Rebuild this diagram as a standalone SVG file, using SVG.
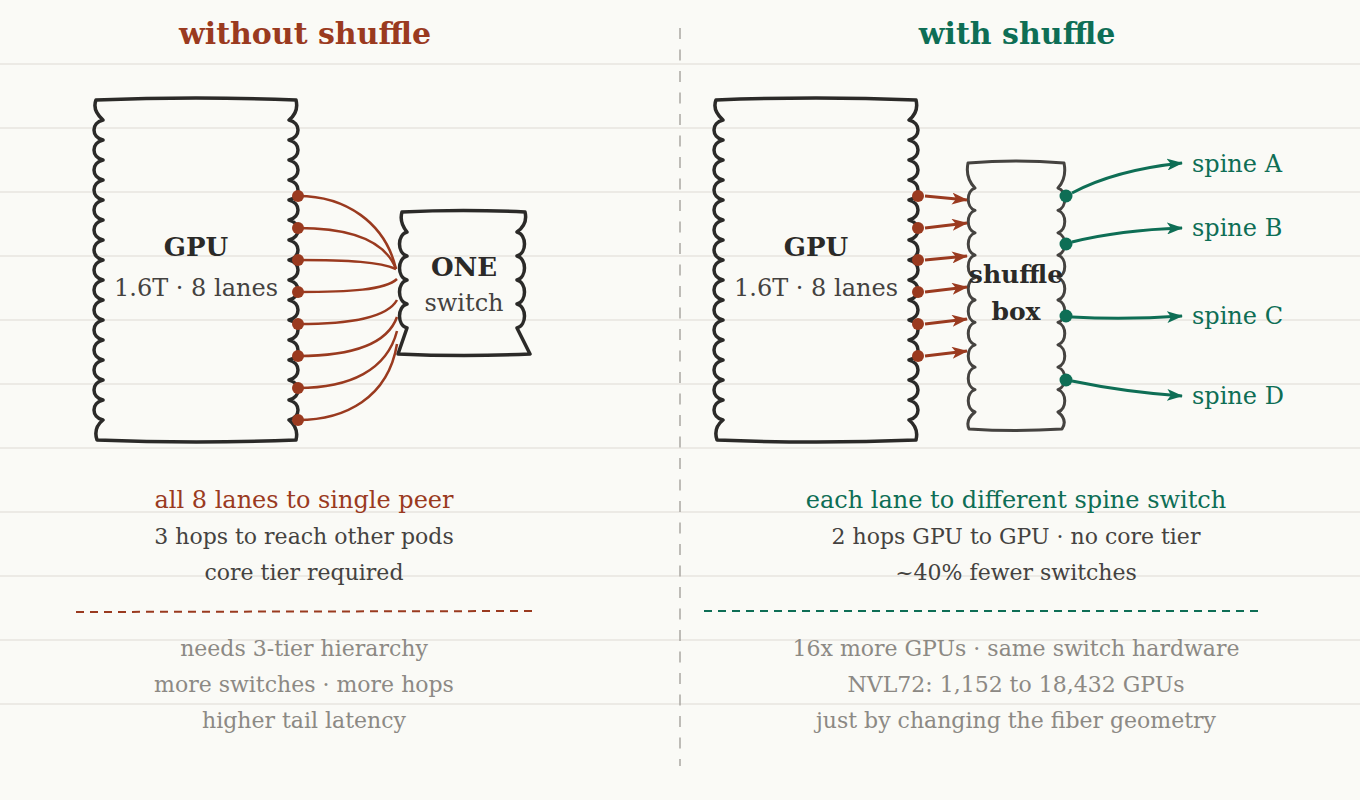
<svg xmlns="http://www.w3.org/2000/svg" width="1360" height="800" viewBox="0 0 1360 800">
<defs>
<style>
.rule{stroke:#e7e5df;stroke-width:1.5}
.box{fill:none;stroke:#2b2a28;stroke-width:3.5;stroke-linejoin:round}
.sbox{fill:none;stroke:#454340;stroke-width:3;stroke-linejoin:round}
.title{font-family:"DejaVu Serif",serif;font-weight:bold;font-size:30px;text-anchor:middle}
.lbl{font-family:"DejaVu Serif",serif;text-anchor:middle;font-size:22px}
.b{font-weight:bold;fill:#2b2a28;font-size:26px}
.bs{font-size:25px}
.big{font-size:24px}
.sub{fill:#444240}
.rust{fill:#9a3a1f}
.green{fill:#0e6e55}
.gray{fill:#8c8984}
.fiber{fill:none;stroke:#9a3a1f;stroke-width:2.5}
.rarrow{fill:none;stroke:#9a3a1f;stroke-width:3;marker-end:url(#ahR)}
.garrow{fill:none;stroke:#0e6e55;stroke-width:3;marker-end:url(#ahG)}
.spine{font-family:"DejaVu Serif",serif;font-size:24px;fill:#0e6e55}
</style>
<marker id="ahR" viewBox="0 0 16 12" refX="15" refY="6" markerWidth="16" markerHeight="12" markerUnits="userSpaceOnUse" orient="auto"><path d="M0,0 L16,6 L0,12 L4,6 Z" fill="#9a3a1f"/></marker>
<marker id="ahG" viewBox="0 0 16 12" refX="15" refY="6" markerWidth="16" markerHeight="12" markerUnits="userSpaceOnUse" orient="auto"><path d="M0,0 L16,6 L0,12 L4,6 Z" fill="#0e6e55"/></marker>
<path id="gpuShape" d="M96,100 Q196,96 296,100 Q299,112 289,120 c12,3 12,17 0,20 c12,3 12,17 0,20 c12,3 12,17 0,20 c12,3 12,17 0,20 c12,3 12,17 0,20 c12,3 12,17 0,20 c12,3 12,17 0,20 c12,3 12,17 0,20 c12,3 12,17 0,20 c12,3 12,17 0,20 c12,3 12,17 0,20 c12,3 12,17 0,20 c12,3 12,17 0,20 c12,3 12,17 0,20 c12,3 12,17 0,20 Q299,428 296,440 Q196,444 97,440 Q93,428 103,420 c-12,-3 -12,-17 0,-20 c-12,-3 -12,-17 0,-20 c-12,-3 -12,-17 0,-20 c-12,-3 -12,-17 0,-20 c-12,-3 -12,-17 0,-20 c-12,-3 -12,-17 0,-20 c-12,-3 -12,-17 0,-20 c-12,-3 -12,-17 0,-20 c-12,-3 -12,-17 0,-20 c-12,-3 -12,-17 0,-20 c-12,-3 -12,-17 0,-20 c-12,-3 -12,-17 0,-20 c-12,-3 -12,-17 0,-20 c-12,-3 -12,-17 0,-20 c-12,-3 -12,-17 0,-20 Q92,110 96,100 Z"/>
</defs>
<rect width="1360" height="800" fill="#fafaf6"/>
<g id="rules">
<line class="rule" x1="0" y1="64" x2="1360" y2="64"/>
<line class="rule" x1="0" y1="128" x2="1360" y2="128"/>
<line class="rule" x1="0" y1="192" x2="1360" y2="192"/>
<line class="rule" x1="0" y1="256" x2="1360" y2="256"/>
<line class="rule" x1="0" y1="320" x2="1360" y2="320"/>
<line class="rule" x1="0" y1="384" x2="1360" y2="384"/>
<line class="rule" x1="0" y1="448" x2="1360" y2="448"/>
<line class="rule" x1="0" y1="512" x2="1360" y2="512"/>
<line class="rule" x1="0" y1="576" x2="1360" y2="576"/>
<line class="rule" x1="0" y1="640" x2="1360" y2="640"/>
<line class="rule" x1="0" y1="704" x2="1360" y2="704"/>
</g>
<line x1="680" y1="28" x2="680" y2="766" stroke="#aaa8a2" stroke-width="1.5" stroke-dasharray="11,10.5"/>
<text class="title rust" x="305" y="44">without shuffle</text>
<text class="title green" x="1017" y="44">with shuffle</text>

<g id="gpu-left">
<use href="#gpuShape" class="box"/>
<text class="lbl b" x="196" y="256">GPU</text>
<text class="lbl sub big" x="196" y="296">1.6T · 8 lanes</text>
</g>
<g id="switch-one">
<path class="box" d="M402,212 Q463,209 525,212 Q528,224 517,232 c10,3 10,21 0,24 c10,3 10,21 0,24 c10,3 10,21 0,24 c10,3 10,21 0,24 L530,354 Q464,357 398,354 L407,328 c-10,-3 -10,-21 0,-24 c-10,-3 -10,-21 0,-24 c-10,-3 -10,-21 0,-24 c-10,-3 -10,-21 0,-24 Q399,222 402,212 Z"/>
<text class="lbl b" x="464" y="276">ONE</text>
<text class="lbl sub big" x="464" y="311">switch</text>
</g>
<g id="gpu-right">
<use href="#gpuShape" class="box" transform="translate(620,0)"/>
<text class="lbl b" x="816" y="256">GPU</text>
<text class="lbl sub big" x="816" y="296">1.6T · 8 lanes</text>
</g>
<g id="shuffle-box">
<path class="sbox" d="M968,163 Q1016,159 1064,163 Q1067,178 1058,188 c9,3 9,19.4 0,22.4 c9,3 9,19.4 0,22.4 c9,3 9,19.4 0,22.4 c9,3 9,19.4 0,22.4 c9,3 9,19.4 0,22.4 c9,3 9,19.4 0,22.4 c9,3 9,19.4 0,22.4 c9,3 9,19.4 0,22.4 c9,3 9,19.4 0,22.4 c9,3 9,19.4 0,22.4 Q1068,420 1062,429 Q1015,432 969,429 Q965,420 975,412 c-9,-3 -9,-19.4 0,-22.4 c-9,-3 -9,-19.4 0,-22.4 c-9,-3 -9,-19.4 0,-22.4 c-9,-3 -9,-19.4 0,-22.4 c-9,-3 -9,-19.4 0,-22.4 c-9,-3 -9,-19.4 0,-22.4 c-9,-3 -9,-19.4 0,-22.4 c-9,-3 -9,-19.4 0,-22.4 c-9,-3 -9,-19.4 0,-22.4 c-9,-3 -9,-19.4 0,-22.4 Q965,178 968,163 Z"/>
<text class="lbl b bs" x="1016" y="283">shuffle</text>
<text class="lbl b bs" x="1016" y="320">box</text>
</g>
<g id="spine-labels">
<text class="spine" x="1192" y="172">spine A</text>
<text class="spine" x="1192" y="236">spine B</text>
<text class="spine" x="1192" y="324">spine C</text>
<text class="spine" x="1192" y="404">spine D</text>
</g>

<g id="connectors">
<path class="fiber" d="M298,196 C345,196 385,222 396,269"/>
<path class="fiber" d="M298,228 C350,228 385,240 396,269"/>
<path class="fiber" d="M298,260 C350,260 380,262 396,269"/>
<path class="fiber" d="M298,292 C350,292 385,290 397,279"/>
<path class="fiber" d="M298,324 C350,324 387,318 397,300"/>
<path class="fiber" d="M298,356 C350,356 387,345 397,317"/>
<path class="fiber" d="M298,388 C350,388 387,370 397,331"/>
<path class="fiber" d="M298,420 C345,420 388,398 397,344"/>
<path class="rarrow" d="M925,196 L967,200"/>
<path class="rarrow" d="M925,228 L967,223"/>
<path class="rarrow" d="M925,260 L967,256"/>
<path class="rarrow" d="M925,292 L967,287"/>
<path class="rarrow" d="M925,324 L967,319"/>
<path class="rarrow" d="M925,356 L967,351"/>
<path class="garrow" d="M1072,193 Q1115,170 1182,163"/>
<path class="garrow" d="M1072,242 Q1120,230 1182,228"/>
<path class="garrow" d="M1072,317 Q1125,320 1182,316"/>
<path class="garrow" d="M1072,381 Q1125,392 1182,396"/>
<g fill="#9a3a1f">
<circle cx="298" cy="196" r="6"/><circle cx="298" cy="228" r="6"/><circle cx="298" cy="260" r="6"/><circle cx="298" cy="292" r="6"/>
<circle cx="298" cy="324" r="6"/><circle cx="298" cy="356" r="6"/><circle cx="298" cy="388" r="6"/><circle cx="298" cy="420" r="6"/>
<circle cx="918" cy="196" r="6"/><circle cx="918" cy="228" r="6"/><circle cx="918" cy="260" r="6"/><circle cx="918" cy="292" r="6"/>
<circle cx="918" cy="324" r="6"/><circle cx="918" cy="356" r="6"/>
</g>
<g fill="#0e6e55">
<circle cx="1066" cy="196" r="6.5"/><circle cx="1066" cy="244" r="6.5"/><circle cx="1066" cy="316" r="6.5"/><circle cx="1066" cy="380" r="6.5"/>
</g>
</g>

<g id="notes-left">
<text class="lbl rust big" x="304" y="508">all 8 lanes to single peer</text>
<text class="lbl sub" x="304" y="544">3 hops to reach other pods</text>
<text class="lbl sub" x="304" y="580">core tier required</text>
<line x1="76" y1="612" x2="532" y2="611" stroke="#9a3a1f" stroke-width="2" stroke-dasharray="8,6"/>
<text class="lbl gray" x="304" y="656">needs 3-tier hierarchy</text>
<text class="lbl gray" x="304" y="692">more switches · more hops</text>
<text class="lbl gray" x="304" y="728">higher tail latency</text>
</g>
<g id="notes-right">
<text class="lbl green big" x="1016" y="508">each lane to different spine switch</text>
<text class="lbl sub" x="1016" y="544">2 hops GPU to GPU · no core tier</text>
<text class="lbl sub" x="1016" y="580">~40% fewer switches</text>
<line x1="704" y1="611" x2="1258" y2="611" stroke="#0e6e55" stroke-width="2" stroke-dasharray="8,6"/>
<text class="lbl gray" x="1016" y="656">16x more GPUs · same switch hardware</text>
<text class="lbl gray" x="1016" y="692">NVL72: 1,152 to 18,432 GPUs</text>
<text class="lbl gray" x="1016" y="728">just by changing the fiber geometry</text>
</g>
</svg>
